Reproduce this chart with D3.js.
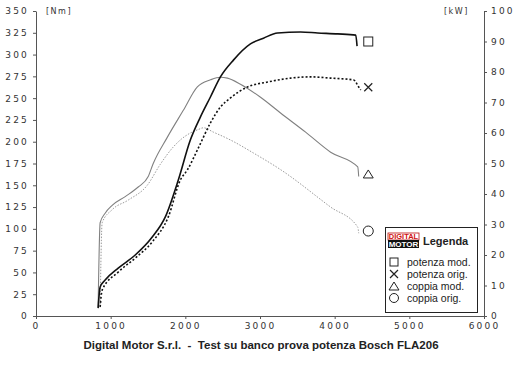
<!DOCTYPE html>
<html>
<head>
<meta charset="utf-8">
<script src="https://cdn.jsdelivr.net/npm/d3@7"></script>
<style>
  html, body { margin: 0; padding: 0; background: #fff; }
  svg { display: block; }
  .tick text { font-family: "DejaVu Sans", sans-serif; font-size: 9px; letter-spacing: 2.2px; fill: #333; }
</style>
</head>
<body>
<svg id="chart" width="520" height="367"></svg>
<script>
// ---- data ----
const xTicks = [0, 1000, 2000, 3000, 4000, 5000, 6000];
const nmTicks = [0, 25, 50, 75, 100, 125, 150, 175, 200, 225, 250, 275, 300, 325, 350];
const kwTicks = [0, 10, 20, 30, 40, 50, 60, 70, 80, 90, 100];

// [rpm, kW]
const potenzaMod = [[832,2.6],[859,9.5],[926,11.8],[1101,15.7],[1329,20.0],[1557,25.9],[1732,32.5],[1906,44.6],
  [2067,57.7],[2201,65.2],[2336,71.8],[2470,78.4],[2644,83.9],[2872,89.2],[3047,91.1],[3235,92.8],[3544,93.1],
  [3772,92.8],[4040,92.5],[4282,92.1],[4300,88.5]];
const potenzaOrig = [[859,3.0],[886,8.5],[1101,14.4],[1329,19.0],[1557,24.3],[1772,32.5],[1933,44.6],[2027,47.9],
  [2161,54.4],[2336,63.3],[2470,68.5],[2604,71.5],[2832,75.1],[3101,76.7],[3409,78.0],[3678,78.4],[3946,78.0],
  [4255,77.4],[4322,75.1],[4349,74.1]];
// [rpm, Nm]
const coppiaMod = [[832,10],[859,107],[926,118],[1020,127],[1195,137],[1369,148],[1503,160],[1570,175],[1758,205],
  [1973,236],[2161,263],[2336,271],[2470,274],[2564,273],[2738,266],[3007,251],[3275,233],[3611,211],[3946,188],
  [4309,171],[4322,160]];
const coppiaOrig = [[859,10],[886,107],[1020,122],[1235,133],[1490,150],[1664,174],[1839,194],[1933,202],[2067,210],
  [2174,214],[2242,216],[2376,211],[2604,202],[2913,187],[3275,168],[3946,125],[4309,102],[4322,95]];

// end markers: [rpm, value]
const markerSquare = [4450, 90];    // kW
const markerCross = [4450, 75];     // kW
const markerTriangle = [4450, 163]; // Nm
const markerCircle = [4450, 97.5];  // Nm

const legendLabels = ["potenza mod.", "potenza orig.", "coppia mod.", "coppia orig."];
const titleText = "Digital Motor S.r.l.  -  Test su banco prova potenza Bosch FLA206";

// ---- scales ----
const svg = d3.select("#chart");
const x = d3.scaleLinear().domain([0, 6000]).range([36, 484]);
const yNm = d3.scaleLinear().domain([0, 350]).range([316, 11]);
const yKw = d3.scaleLinear().domain([0, 100]).range([316, 11]);

// ---- axes ----
const axB = svg.append("g").attr("transform", "translate(0,316)")
  .call(d3.axisBottom(x).tickValues(xTicks).tickFormat(d3.format("d")).tickSize(3).tickSizeOuter(0).tickPadding(2));
axB.selectAll(".tick text").attr("dy", "0.9em");
const axL = svg.append("g").attr("transform", "translate(36,0)")
  .call(d3.axisLeft(yNm).tickValues(nmTicks).tickFormat(d3.format("d")).tickSize(3).tickSizeOuter(0).tickPadding(4));
const axR = svg.append("g").attr("transform", "translate(484,0)")
  .call(d3.axisRight(yKw).tickValues(kwTicks).tickFormat(d3.format("d")).tickSize(3).tickSizeOuter(0).tickPadding(4));
svg.selectAll(".domain").attr("stroke", "#555");
svg.selectAll(".tick line").attr("stroke", "#555");

svg.append("text").attr("x", 46).attr("y", 14).text("[Nm]")
  .attr("font-family", "DejaVu Sans").attr("font-size", 8).attr("letter-spacing", 1.5).attr("fill", "#333");
svg.append("text").attr("x", 444).attr("y", 14).text("[kW]")
  .attr("font-family", "DejaVu Sans").attr("font-size", 8).attr("letter-spacing", 1.5).attr("fill", "#333");

// ---- lines ----
const lineKw = d3.line().x(d => x(d[0])).y(d => yKw(d[1])).curve(d3.curveMonotoneX);
const lineNm = d3.line().x(d => x(d[0])).y(d => yNm(d[1])).curve(d3.curveMonotoneX);

svg.append("path").datum(coppiaOrig).attr("d", lineNm).attr("fill", "none")
  .attr("stroke", "#9a9a9a").attr("stroke-width", 1).attr("stroke-dasharray", "1.5,1.5");
svg.append("path").datum(coppiaMod).attr("d", lineNm).attr("fill", "none")
  .attr("stroke", "#808080").attr("stroke-width", 1.1);
svg.append("path").datum(potenzaOrig).attr("d", lineKw).attr("fill", "none")
  .attr("stroke", "#111").attr("stroke-width", 1.6).attr("stroke-dasharray", "2,2");
svg.append("path").datum(potenzaMod).attr("d", lineKw).attr("fill", "none")
  .attr("stroke", "#111").attr("stroke-width", 1.6);

// ---- markers ----
function drawSymbol(g, type, cx, cy, s) {
  if (type === "square") {
    g.append("rect").attr("x", cx - s/2).attr("y", cy - s/2).attr("width", s).attr("height", s)
      .attr("fill", "none").attr("stroke", "#222").attr("stroke-width", 1);
  } else if (type === "cross") {
    g.append("path").attr("d", `M${cx-s/2},${cy-s/2}L${cx+s/2},${cy+s/2}M${cx+s/2},${cy-s/2}L${cx-s/2},${cy+s/2}`)
      .attr("stroke", "#222").attr("stroke-width", 1.2);
  } else if (type === "triangle") {
    g.append("path").attr("d", `M${cx},${cy-s/2}L${cx+s*0.62},${cy+s/2}L${cx-s*0.62},${cy+s/2}Z`)
      .attr("fill", "none").attr("stroke", "#222").attr("stroke-width", 1);
  } else {
    g.append("circle").attr("cx", cx).attr("cy", cy).attr("r", s/2)
      .attr("fill", "none").attr("stroke", "#222").attr("stroke-width", 1);
  }
}
const mg = svg.append("g");
drawSymbol(mg, "square", x(markerSquare[0]), yKw(markerSquare[1]), 9);
drawSymbol(mg, "cross", x(markerCross[0]), yKw(markerCross[1]), 8);
drawSymbol(mg, "triangle", x(markerTriangle[0]), yNm(markerTriangle[1]), 8);
drawSymbol(mg, "circle", x(markerCircle[0]), yNm(markerCircle[1]), 10);

// ---- legend ----
const lg = svg.append("g");
lg.append("rect").attr("x", 385.5).attr("y", 227.5).attr("width", 92).attr("height", 85)
  .attr("fill", "#fff").attr("stroke", "#222").attr("stroke-width", 1);
lg.append("rect").attr("x", 388).attr("y", 233).attr("width", 31).attr("height", 7)
  .attr("fill", "#fff").attr("stroke", "#b11").attr("stroke-width", 0.8);
lg.append("text").attr("x", 403.5).attr("y", 239.3).attr("text-anchor", "middle").text("DIGITAL")
  .attr("font-family", "Liberation Sans").attr("font-weight", "bold").attr("font-size", 7.5).attr("fill", "#d01010");
lg.append("rect").attr("x", 388).attr("y", 240).attr("width", 31).attr("height", 8).attr("fill", "#111");
lg.append("text").attr("x", 403.5).attr("y", 247).attr("text-anchor", "middle").text("MOTOR")
  .attr("font-family", "Liberation Sans").attr("font-weight", "bold").attr("font-size", 8).attr("fill", "#fff");
lg.append("text").attr("x", 423).attr("y", 245).text("Legenda")
  .attr("font-family", "Liberation Sans Narrow, Liberation Sans").attr("font-weight", "bold").attr("font-size", 11).attr("fill", "#222");
const legendTypes = ["square", "cross", "triangle", "circle"];
const rowY = [262, 274, 286, 298];
legendLabels.forEach((lab, i) => {
  drawSymbol(lg, legendTypes[i], 394, rowY[i], legendTypes[i] === "circle" ? 9 : 8);
  lg.append("text").attr("x", 407).attr("y", rowY[i] + 4).text(lab)
    .attr("font-family", "Liberation Sans").attr("font-size", 10.5).attr("fill", "#222");
});

// ---- title ----
svg.append("text").attr("x", 261).attr("y", 349).attr("text-anchor", "middle").text(titleText)
  .style("white-space", "pre")
  .attr("font-family", "Liberation Sans").attr("font-weight", "bold").attr("font-size", 11.5).attr("fill", "#222");
</script>
</body>
</html>
